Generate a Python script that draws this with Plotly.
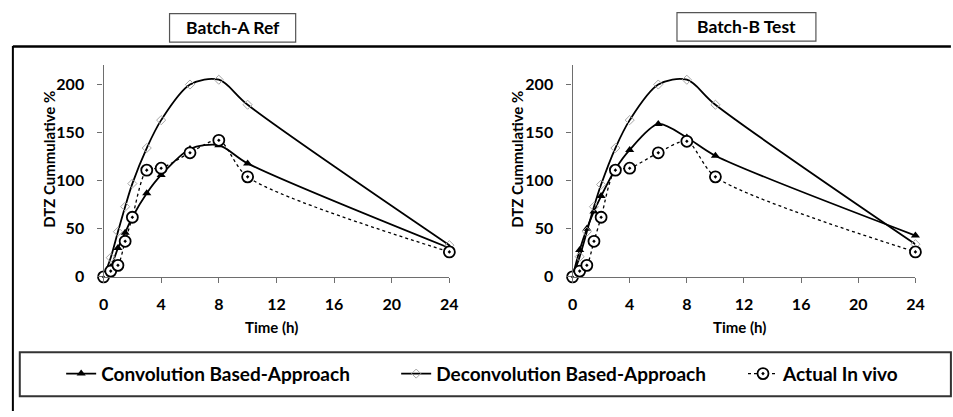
import plotly.graph_objects as go

time_h = [0, 0.5, 1, 1.5, 2, 3, 4, 6, 8, 10, 24]

a_conv = [0, 10, 30, 46, 62, 87, 106, 133, 137, 118, 30]
a_deconv = [0, 20, 47, 73, 97, 134, 163, 200, 205, 179, 33]
a_actual = [0, 6, 12, 37, 62, 111, 113, 129, 142, 104, 26]

b_conv = [0, 28, 50, 68, 84, 112, 132, 159, 145, 126, 43]
b_deconv = [0, 21, 47, 73, 96, 134, 163, 200, 205, 179, 34]
b_actual = [0, 6, 12, 37, 62, 111, 113, 129, 141, 104, 26]

x_ticks = [0, 4, 8, 12, 16, 20, 24]
y_ticks = [0, 50, 100, 150, 200]
series_names = ["Convolution Based-Approach", "Deconvolution Based-Approach", "Actual In vivo"]
panel_titles = ["Batch-A Ref", "Batch-B Test"]
axis_titles = ["Time (h)", "DTZ Cummulative %"]

FONT = "Lato, Carlito, Liberation Sans, sans-serif"
W, H = 953, 417

def px(x):
    return x / W

def py(y):
    return 1 - y / H

fig = go.Figure()

panels = [
    (a_conv, a_deconv, a_actual, "x", "y", True),
    (b_conv, b_deconv, b_actual, "x2", "y2", False),
]
for conv, deconv, actual, xa, ya, show in panels:
    fig.add_trace(go.Scatter(
        x=time_h, y=conv, name=series_names[0], mode="lines+markers",
        line=dict(color="black", width=1.8, shape="spline", smoothing=0.8),
        marker=dict(symbol="triangle-up", size=8, color="black"),
        xaxis=xa, yaxis=ya, showlegend=show, legend="legend", cliponaxis=False))
    fig.add_trace(go.Scatter(
        x=time_h, y=deconv, name=series_names[1], mode="lines+markers",
        line=dict(color="black", width=1.8, shape="spline", smoothing=0.9),
        marker=dict(symbol="diamond-open", size=7, color="#a6a6a6", line=dict(width=1)),
        xaxis=xa, yaxis=ya, showlegend=show, legend="legend2", cliponaxis=False))
    fig.add_trace(go.Scatter(
        x=time_h, y=actual, name=series_names[2], mode="lines+markers",
        line=dict(color="black", width=1.3, dash="dot", shape="spline", smoothing=0.8),
        marker=dict(symbol="circle-dot", size=11, color="white",
                    line=dict(color="black", width=1.8)),
        xaxis=xa, yaxis=ya, showlegend=show, legend="legend3", cliponaxis=False))

axis_common = dict(
    showgrid=False, zeroline=False, showline=True, linecolor="#6e6e6e", linewidth=1.3,
    ticks="outside", ticklen=5, tickcolor="#6e6e6e", tickwidth=1,
    tickfont=dict(family=FONT, size=16, color="black", weight="bold"),
)

yb = py(283)
yt = py(283 - 220 * 0.983)

leg_font = dict(family=FONT, size=19, color="black", weight="bold")
def leg(xpix):
    return dict(orientation="h", x=px(xpix), y=py(382), xanchor="left", yanchor="middle",
                font=leg_font, itemwidth=30, bgcolor="rgba(0,0,0,0)", borderwidth=0)

fig.update_layout(
    width=W, height=H, margin=dict(l=0, r=0, t=0, b=0),
    paper_bgcolor="white", plot_bgcolor="white",
    xaxis=dict(domain=[px(100), px(451)], range=[0, 24], tickvals=x_ticks,
               ticklabelstandoff=8, anchor="y", **axis_common),
    yaxis=dict(domain=[yb, yt], range=[0, 220], tickvals=y_ticks,
               ticklabelstandoff=10, anchor="x", **axis_common),
    xaxis2=dict(domain=[px(576), px(924)], range=[0, 24], tickvals=x_ticks,
                ticklabelstandoff=8, anchor="y2", **axis_common),
    yaxis2=dict(domain=[yb, yt], range=[0, 220], tickvals=y_ticks,
                ticklabelstandoff=10, anchor="x2", **axis_common),
    showlegend=True,
    legend=leg(57), legend2=leg(397), legend3=leg(749),
)

shapes = [
    dict(type="line", xref="paper", yref="paper", x0=px(8), x1=px(960), y0=py(47.5), y1=py(47.5),
         line=dict(color="black", width=2.5)),
    dict(type="line", xref="paper", yref="paper", x0=px(8), x1=px(8), y0=py(47), y1=py(420),
         line=dict(color="black", width=2)),
    dict(type="rect", xref="paper", yref="paper", x0=px(15), x1=px(960), y0=py(360), y1=py(405),
         line=dict(color="#333333", width=2)),
    dict(type="rect", xref="paper", yref="paper", x0=px(167), x1=px(295), y0=py(14), y1=py(43),
         line=dict(color="#555555", width=1.2)),
    dict(type="rect", xref="paper", yref="paper", x0=px(682), x1=px(823), y0=py(13), y1=py(42),
         line=dict(color="#555555", width=1.2)),
]
fig.update_layout(shapes=shapes)

ann_font = dict(family=FONT, size=17.5, color="black", weight="bold")
title_font = dict(family=FONT, size=15, color="black", weight="bold")

def ann(text, x, y, font, angle=0):
    return dict(text=text, x=px(x), y=py(y), xref="paper", yref="paper",
                xanchor="center", yanchor="middle", textangle=angle,
                showarrow=False, font=font)

annotations = [
    ann(panel_titles[0], 231, 28.5, ann_font),
    ann(panel_titles[1], 752.5, 27.5, ann_font),
    ann(axis_titles[1], 45, 163, title_font, -90),
    ann(axis_titles[1], 520, 163, title_font, -90),
    ann(axis_titles[0], 270, 334, title_font),
    ann(axis_titles[0], 745, 334, title_font),
]
fig.update_layout(annotations=annotations)

fig.write_html("out.html")
